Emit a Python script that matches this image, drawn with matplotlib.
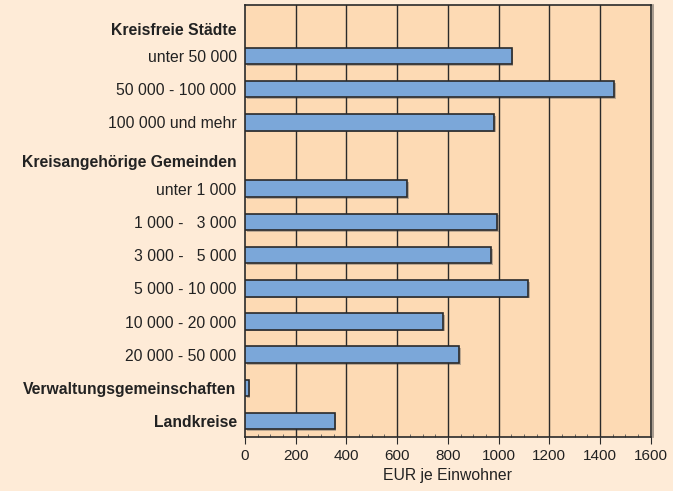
import numpy as np
import matplotlib.pyplot as plt
import matplotlib.patheffects as pe

plt.rcParams['font.family'] = ['Liberation Sans', 'DejaVu Sans']

# row labels (headers are bold, no bar)
labels = ["Kreisfreie Städte", "unter 50 000", "50 000 - 100 000", "100 000 und mehr",
          "Kreisangehörige Gemeinden", "unter 1 000", "1 000 -   3 000", "3 000 -   5 000",
          "5 000 - 10 000", "10 000 - 20 000", "20 000 - 50 000",
          "Verwaltungsgemeinschaften", "Landkreise"]
is_header = [True, False, False, False, True, False, False, False, False, False, False, True, True]
values = [None, 1051, 1455, 982, None, 640, 995, 971, 1117, 782, 845, 14, 354]

# y slots; group headers sit a bit below their slot
ypos = [0.2, 1, 2, 3, 4.15, 5, 6, 7, 8, 9, 10, 11, 12]

fig = plt.figure(figsize=(6.73, 4.91), dpi=100)
fig.patch.set_facecolor("#FEEBD7")
ax = fig.add_axes([0.364, 0.110, 0.603, 0.880])
ax.set_facecolor("#FDDAB4")

# grid lines
for x in range(200, 1600, 200):
    ax.axvline(x, color="#2a2a2a", lw=1, zorder=1)

bar_y = [y for y, v in zip(ypos, values) if v is not None]
bar_v = [v for v in values if v is not None]
bars = ax.barh(bar_y, bar_v, height=0.5, color="#7BA7D9", edgecolor="#2a2a2a",
               linewidth=1.2, zorder=3)
for b in bars:
    b.set_path_effects([pe.SimplePatchShadow(offset=(1.2, -1.2), alpha=0.3), pe.Normal()])

ax.set_xlim(0, 1600)
ax.set_ylim(12.48, -0.54)
ax.set_xticks(np.arange(0, 1601, 200))
ax.set_xticks(np.arange(0, 1601, 50), minor=True)
ax.tick_params(axis="x", which="major", length=5, color="#2a2a2a", labelsize=11,
               labelcolor="#222222", pad=4)
ax.tick_params(axis="x", which="minor", length=2.5, direction="in", color="#555555")
ax.set_yticks(ypos)
ax.set_yticklabels(labels)
ax.tick_params(axis="y", length=0, labelsize=11.3, labelcolor="#222222", pad=6)
for lab, h in zip(ax.get_yticklabels(), is_header):
    if h:
        lab.set_fontweight("bold")
ax.set_xlabel("EUR je Einwohner", fontsize=11.3, color="#222222", labelpad=3)

for s in ax.spines.values():
    s.set_color("#2a2a2a")
    s.set_linewidth(1.2)
ax.spines["right"].set_path_effects([pe.SimpleLineShadow(offset=(1.5, 0), alpha=0.4), pe.Normal()])

fig.savefig("out.png", dpi=100, facecolor=fig.get_facecolor())
